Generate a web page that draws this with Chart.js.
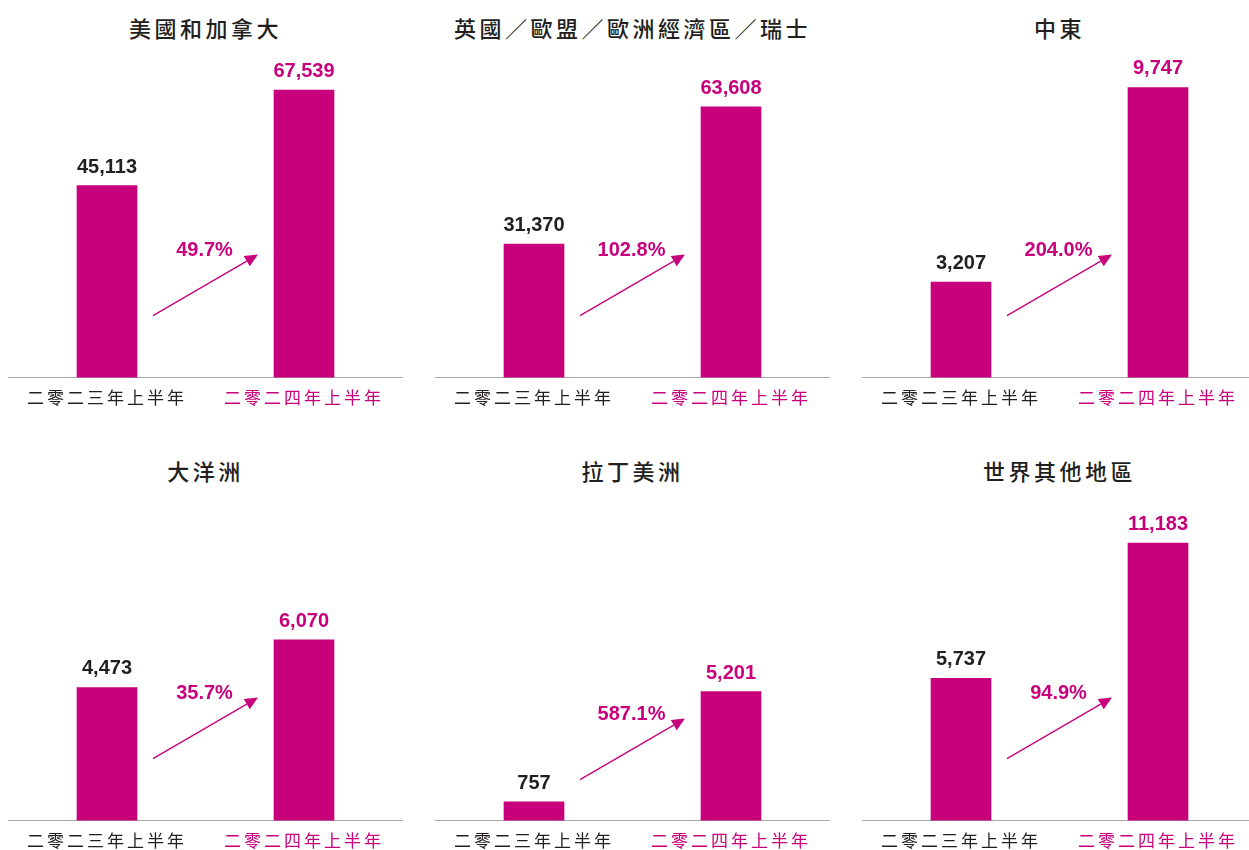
<!DOCTYPE html>
<html lang="zh-Hant">
<head>
    <meta charset="UTF-8">
    <title>按地區劃分的收入</title>
    <script src="https://cdn.jsdelivr.net/npm/chart.js"></script>
    <style>
        html, body { margin: 0; padding: 0; background: #fff; overflow: hidden; }
        body { width: 1249px; height: 850px; position: relative; }
        .panel-title {
            position: absolute;
            width: 394px;
            text-align: center;
            font-family: "Noto Sans CJK TC", "Noto Sans CJK SC", sans-serif;
            font-size: 22px;
            font-weight: 500;
            line-height: 22px;
            letter-spacing: 3.5px;
            color: #231f20;
            white-space: nowrap;
        }
        canvas { position: absolute; }
    </style>
</head>
<body>
    <div id="panels"></div>

    <script>
        // Data
        const regions = ['美國和加拿大', '英國／歐盟／歐洲經濟區／瑞士', '中東', '大洋洲', '拉丁美洲', '世界其他地區'];
        const periods = ['二零二三年上半年', '二零二四年上半年'];
        const firstHalf2023 = [45113, 31370, 3207, 4473, 757, 5737];
        const firstHalf2024 = [67539, 63608, 9747, 6070, 5201, 11183];
        const growthLabels = ['49.7%', '102.8%', '204.0%', '35.7%', '587.1%', '94.9%'];
        // each panel has its own value axis top
        const axisMax = [74600, 74600, 10670, 10670, 12800, 12800];

        // Layout / style
        const MAGENTA = '#c8007b';
        const DARK = '#231f20';
        const PANEL_W = 410, PANEL_H = 420, COL_STEP = 427, ROW_STEP = 443;
        const arrowLift = [62, 62, 62, 62, 41, 62];
        const NUM_FONT = 'bold 20px "Liberation Sans", Arial, sans-serif';

        // letter spacing for the axis labels only
        const spacingPlugin = {
            id: 'spacing',
            beforeDraw(chart) { chart.ctx.letterSpacing = '3px'; },
            beforeDatasetsDraw(chart) { chart.ctx.letterSpacing = '0px'; }
        };

        // value labels, growth arrow and percentage
        const annotatePlugin = {
            id: 'annotate',
            afterDatasetsDraw(chart, args, opts) {
                const ctx = chart.ctx;
                const bars = chart.getDatasetMeta(0).data;
                const values = chart.data.datasets[0].data;
                const base = chart.chartArea.bottom;
                ctx.save();
                ctx.font = NUM_FONT;
                ctx.textAlign = 'center';
                ctx.textBaseline = 'alphabetic';
                bars.forEach((bar, j) => {
                    ctx.fillStyle = j === 0 ? DARK : MAGENTA;
                    ctx.fillText(values[j].toLocaleString('en-US'), bar.x, bar.y - 13);
                });

                const mid = (bars[0].x + bars[1].x) / 2;
                const x0 = mid - 52.5, y0 = base - opts.lift;
                const x1 = mid + 52.5, y1 = base - opts.lift - 61;
                const ang = Math.atan2(y1 - y0, x1 - x0);
                const len = 13, half = 6;
                const bx = x1 - len * Math.cos(ang), by = y1 - len * Math.sin(ang);
                ctx.strokeStyle = MAGENTA;
                ctx.fillStyle = MAGENTA;
                ctx.lineWidth = 1.3;
                ctx.beginPath();
                ctx.moveTo(x0, y0);
                ctx.lineTo(bx, by);
                ctx.stroke();
                ctx.beginPath();
                ctx.moveTo(x1, y1);
                ctx.lineTo(bx - half * Math.sin(ang), by + half * Math.cos(ang));
                ctx.lineTo(bx + half * Math.sin(ang), by - half * Math.cos(ang));
                ctx.closePath();
                ctx.fill();

                ctx.fillText(opts.text, mid - 1, y1 + 1);
                ctx.restore();
            }
        };

        const holder = document.getElementById('panels');

        regions.forEach((region, i) => {
            const col = i % 3, row = Math.floor(i / 3);
            const left = col * COL_STEP, top = row * ROW_STEP;

            const title = document.createElement('div');
            title.className = 'panel-title';
            title.textContent = region;
            title.style.left = (left + 8.5) + 'px';
            title.style.top = (top + 16) + 'px';
            holder.appendChild(title);

            const canvas = document.createElement('canvas');
            canvas.width = PANEL_W;
            canvas.height = PANEL_H;
            canvas.style.left = left + 'px';
            canvas.style.top = top + 'px';
            holder.appendChild(canvas);

            new Chart(canvas, {
                type: 'bar',
                data: {
                    labels: periods,
                    datasets: [{
                        data: [firstHalf2023[i], firstHalf2024[i]],
                        backgroundColor: MAGENTA,
                        barThickness: 60
                    }]
                },
                options: {
                    responsive: false,
                    animation: false,
                    layout: { padding: { left: 8.5, right: 7.5, top: 60, bottom: 2 } },
                    plugins: {
                        legend: { display: false },
                        tooltip: { enabled: false },
                        annotate: { text: growthLabels[i], lift: arrowLift[i] }
                    },
                    scales: {
                        x: {
                            grid: { display: false, drawTicks: false },
                            border: { color: '#a7a9ac', width: 1 },
                            ticks: {
                                padding: 10,
                                color: c => c.index === 0 ? DARK : MAGENTA,
                                font: { family: '"Noto Sans CJK TC", "Noto Sans CJK SC", sans-serif', size: 17 }
                            }
                        },
                        y: { display: false, min: 0, max: axisMax[i] }
                    }
                },
                plugins: [spacingPlugin, annotatePlugin]
            });
        });
    </script>
</body>
</html>
